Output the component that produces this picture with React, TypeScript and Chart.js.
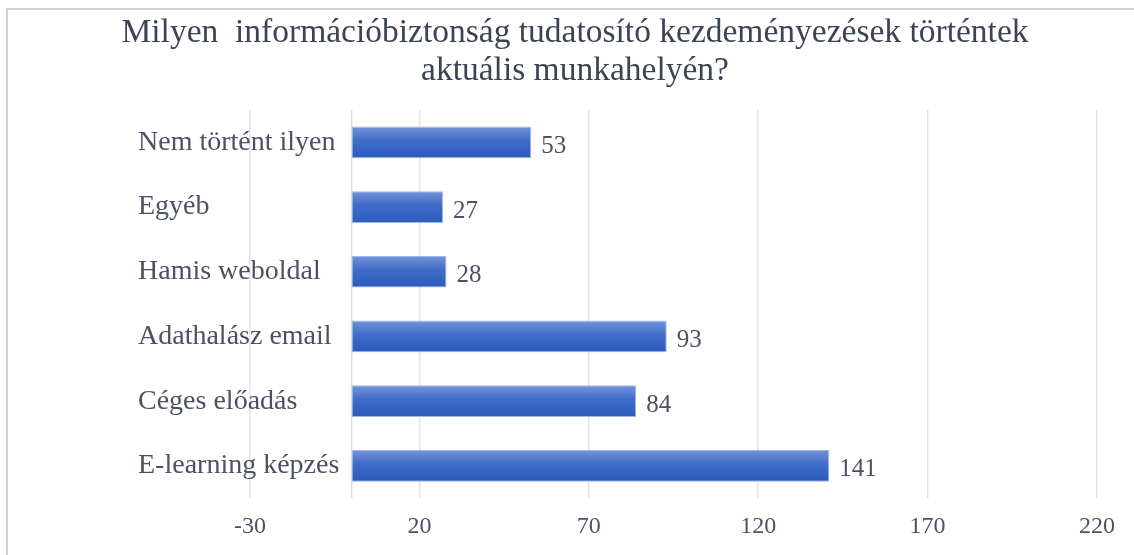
import React, { useEffect, useRef } from "react";
import { Chart, registerables } from "chart.js";

Chart.register(...registerables);

const titleLines = [
  "Milyen  információbiztonság tudatosító kezdeményezések történtek",
  "aktuális munkahelyén?",
];
const categories = [
  "Nem történt ilyen",
  "Egyéb",
  "Hamis weboldal",
  "Adathalász email",
  "Céges előadás",
  "E-learning képzés",
];
const values = [53, 27, 28, 93, 84, 141];
const xTicks = [-30, 20, 70, 120, 170, 220];
const xMin = -30;
const xMax = 220;

const SERIF = "'Liberation Serif', 'Times New Roman', serif";
const TEXT = "#4a5263";
const TITLE = "#3b4454";
const GRID = "#e1e4ea";

export default function App() {
  const ref = useRef<HTMLCanvasElement | null>(null);

  useEffect(() => {
    if (!ref.current) return;

    const overlay = {
      id: "overlay",
      beforeDatasetsDraw(chart: any) {
        const { ctx, chartArea } = chart;
        const xs = chart.scales.x;
        const px = xs.getPixelForValue(0);
        ctx.save();
        ctx.strokeStyle = "#d8dce3";
        ctx.lineWidth = 1.5;
        ctx.beginPath();
        ctx.moveTo(px, chartArea.top);
        ctx.lineTo(px, chartArea.bottom);
        ctx.stroke();
        ctx.restore();
      },
      afterDraw(chart: any) {
        const { ctx } = chart;
        const xs = chart.scales.x;
        const ys = chart.scales.y;
        ctx.save();
        // title
        ctx.fillStyle = TITLE;
        ctx.font = `33.5px ${SERIF}`;
        ctx.textAlign = "center";
        ctx.textBaseline = "alphabetic";
        ctx.fillText(titleLines[0], 575, 42);
        ctx.fillText(titleLines[1], 575, 80);
        // category labels
        ctx.fillStyle = TEXT;
        ctx.font = `28px ${SERIF}`;
        ctx.textAlign = "left";
        ctx.textBaseline = "middle";
        categories.forEach((c, i) => {
          ctx.fillText(c, 138, ys.getPixelForValue(i));
        });
        // value labels
        ctx.font = `25px ${SERIF}`;
        values.forEach((v, i) => {
          ctx.fillText(String(v), xs.getPixelForValue(v) + 10, ys.getPixelForValue(i) + 4);
        });
        ctx.restore();
      },
    };

    const chart = new Chart(ref.current, {
      type: "bar",
      data: {
        labels: categories,
        datasets: [
          {
            data: values,
            categoryPercentage: 1,
            barPercentage: 0.49,
            borderWidth: 1,
            borderSkipped: false,
            borderColor: "rgba(150,176,230,0.9)",
            backgroundColor: (c: any) => {
              const chart = c.chart;
              if (!chart.chartArea || c.dataIndex === undefined || !chart.scales.y) return "#3a66c4";
              const cy = chart.scales.y.getPixelForValue(c.dataIndex);
              const h = 16;
              const g = chart.ctx.createLinearGradient(0, cy - h, 0, cy + h);
              g.addColorStop(0, "#7595d9");
              g.addColorStop(0.45, "#3f6bc8");
              g.addColorStop(1, "#2c5bbe");
              return g;
            },
          },
        ],
      },
      options: {
        indexAxis: "y",
        animation: false,
        responsive: false,
        maintainAspectRatio: false,
        layout: { padding: { left: 250, right: 37, top: 110, bottom: 0 } },
        plugins: {
          legend: { display: false },
          title: { display: false },
          tooltip: { enabled: false },
        },
        scales: {
          x: {
            type: "linear",
            min: xMin,
            max: xMax,
            afterBuildTicks: (scale: any) => {
              scale.ticks = xTicks.map((v) => ({ value: v }));
            },
            grid: { color: GRID, lineWidth: 1.5, drawTicks: false },
            border: { display: false },
            ticks: {
              padding: 14,
              color: TEXT,
              font: { family: SERIF, size: 24 },
              maxRotation: 0,
              autoSkip: false,
            },
          },
          y: {
            display: false,
            grid: { display: false },
          },
        },
      },
      plugins: [overlay],
    } as any);

    return () => chart.destroy();
  }, []);

  return (
    <div style={{ position: "fixed", left: 0, top: 0, width: 1134, height: 555, background: "#fff", overflow: "hidden" }}>
      <div
        style={{
          position: "absolute",
          left: 6,
          top: 8,
          width: 1200,
          height: 600,
          borderLeft: "2px solid #d2d2d2",
          borderTop: "2px solid #d2d2d2",
          boxSizing: "border-box",
        }}
      />
      <canvas ref={ref} width={1134} height={555} style={{ position: "absolute", left: 0, top: 0, width: 1134, height: 555 }} />
    </div>
  );
}
